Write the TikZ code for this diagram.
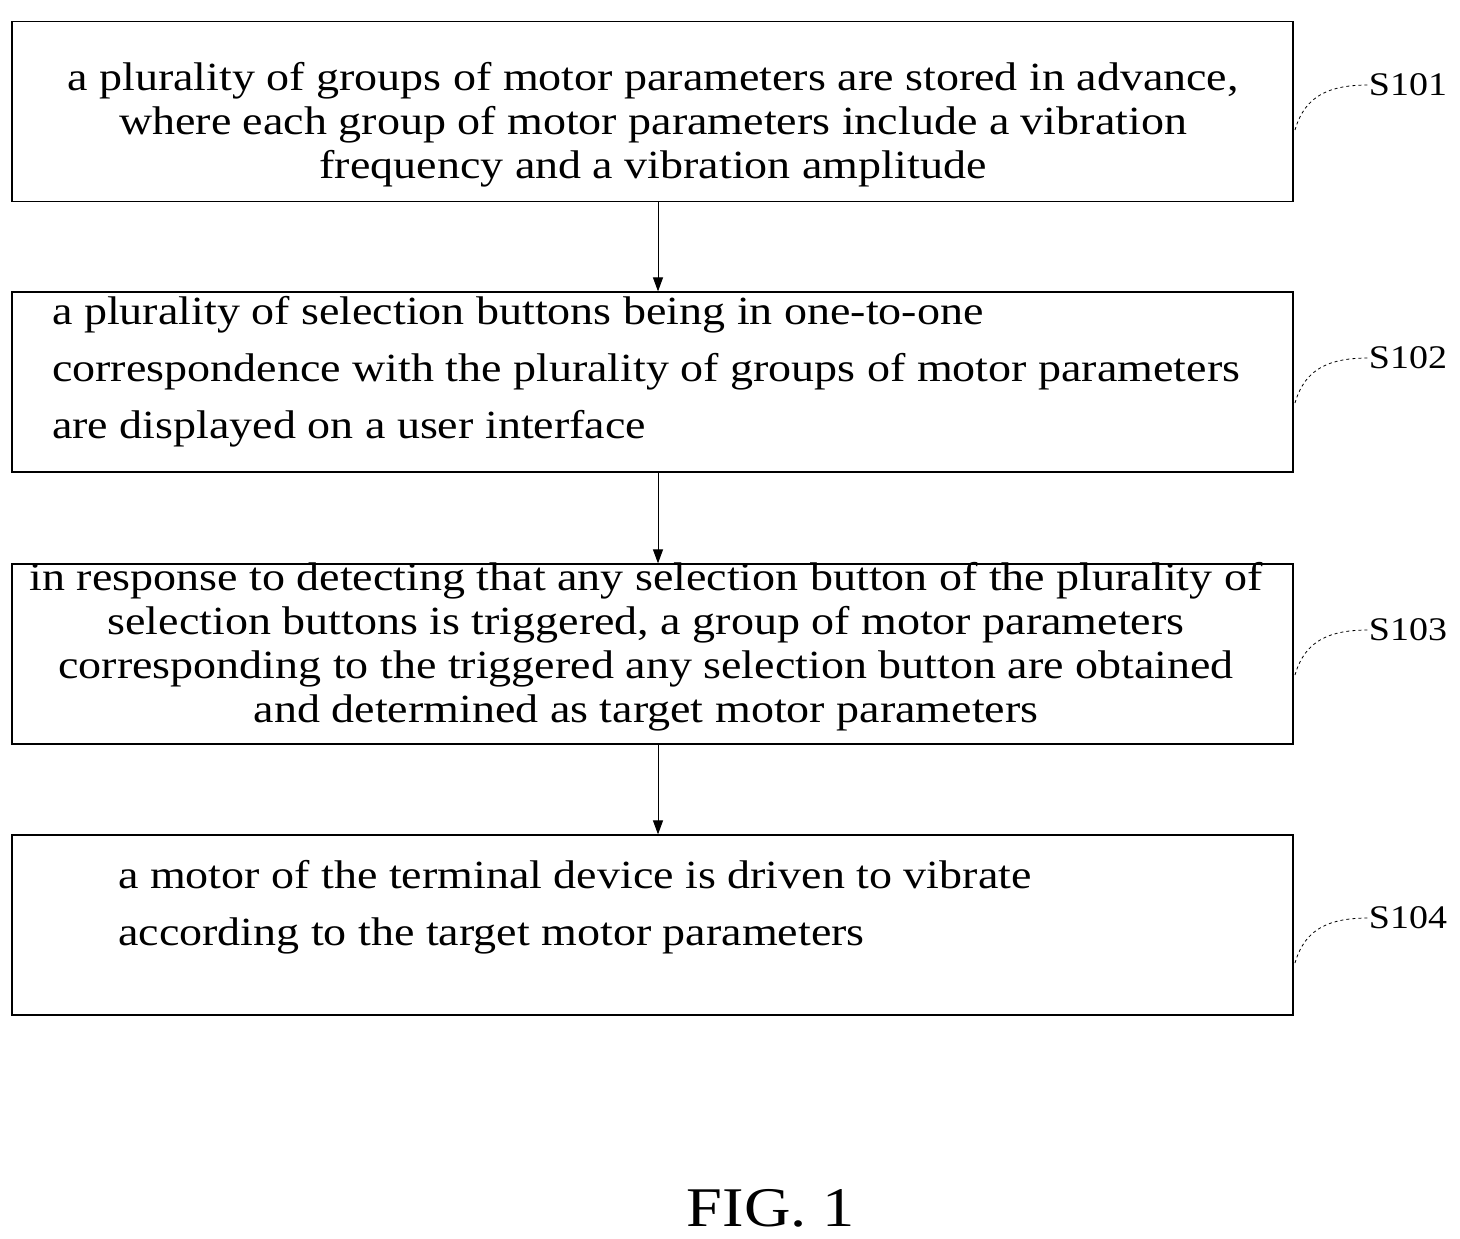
\documentclass[tikz,border=0pt]{standalone}
\usepackage{fontspec}
\setmainfont{Liberation Serif}[FakeStretch=1.15]
\usetikzlibrary{arrows.meta}
\begin{document}
\begin{tikzpicture}[x=1pt,y=-1pt,
 box/.style={draw,line width=1.2pt,minimum width=1281pt,minimum height=180pt,inner sep=0pt},
 txt/.style={font=\fontsize{40}{44}\selectfont,inner sep=0pt},
 arr/.style={-{Triangle[length=14pt,width=10pt]},line width=1pt},
 lab/.style={font=\fontsize{33}{36}\selectfont,inner sep=0pt},
 lead/.style={dashed,line width=0.8pt}]
\useasboundingbox (0,0) rectangle (1460,1239);
\node[box] (b1) at (652.5,111.5) {};
\node[box] (b2) at (652.5,382) {};
\node[box] (b3) at (652.5,654) {};
\node[box] (b4) at (652.5,925) {};
\node[txt,align=center] (t1) at (653,125) {a plurality of groups of motor parameters are stored in advance,\\where each group of motor parameters include a vibration\\frequency and a vibration amplitude};
\node[txt,align=left,anchor=west,font=\fontsize{40}{57}\selectfont] (t2) at (52,372) {a plurality of selection buttons being in one-to-one\\correspondence with the plurality of groups of motor parameters\\are displayed on a user interface};
\node[txt,align=center] (t3) at (646,647) {in response to detecting that any selection button of the plurality of\\selection buttons is triggered, a group of motor parameters\\corresponding to the triggered any selection button are obtained\\and determined as target motor parameters};
\node[txt,align=left,anchor=west,font=\fontsize{40}{57}\selectfont] (t4) at (118,907) {a motor of the terminal device is driven to vibrate\\according to the target motor parameters};
\draw[arr] (b1.south -| 658,0) -- (b2.north -| 658,0);
\draw[arr] (b2.south -| 658,0) -- (b3.north -| 658,0);
\draw[arr] (b3.south -| 658,0) -- (b4.north -| 658,0);
\foreach \i/\y in {1/85,2/358,3/630,4/918}{
 \node[lab] (s\i) at (1408,\y) {S10\i};
 \draw[lead] (1295,\y+45) .. controls (1305,\y+10) and (1330,\y) .. (s\i.west);
}
\node[font=\fontsize{56}{60}\selectfont,inner sep=0pt] (fig) at (771,1208) {FIG. 1};
\end{tikzpicture}
\end{document}
